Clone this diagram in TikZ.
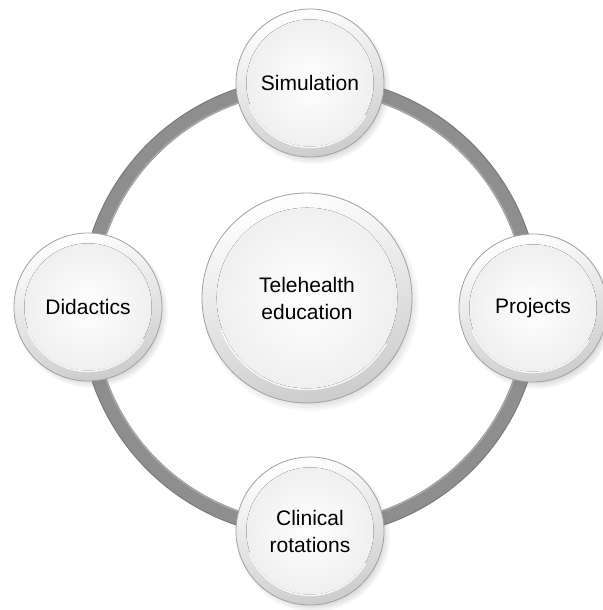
\documentclass[tikz,border=0pt]{standalone}
\usepackage{fontspec}
\setmainfont{Liberation Sans}
\usetikzlibrary{shadows,fadings}
\definecolor{ringgray}{HTML}{8E8E8E}
\definecolor{ringdark}{HTML}{7A7A7A}
\definecolor{ringlight}{HTML}{ABABAB}
\definecolor{rimgray}{HTML}{A0A0A0}
\begin{document}
\begin{tikzpicture}[x=1pt,y=-1pt,
  button/.style={circle, minimum size=#1pt, inner sep=0pt, align=center,
    font=\fontsize{21}{27}\selectfont, text=black,
    draw=rimgray, line width=0.8pt,
    top color=white, bottom color=gray!40, shading angle=15,
    circular drop shadow={shadow xshift=3pt, shadow yshift=-4pt, shadow scale=1.04, opacity=0.4},
    path picture={
      \fill[inner color=white, outer color=gray!14]
        (path picture bounding box.center) circle ({0.43*#1 pt});
      \draw[white, line width=1.4pt, opacity=0.9]
        (path picture bounding box.center) ++(-30:{0.435*#1 pt}) arc[start angle=-30, end angle=-160, radius={0.435*#1 pt}];
    }},
  ringline/.style={line width=15pt, draw=ringgray}
]
\useasboundingbox[fill=white] (0,0) rectangle (602,610);
\coordinate (ringc) at (310,307);
% ring
\draw[ringline] (ringc) circle (223pt);
\draw[ringdark, line width=0.8pt] (ringc) circle (230pt);
\draw[ringlight, line width=1.2pt] (ringc) circle (216.5pt);
% nodes
\node[button=210] (center) at (307,298) {Telehealth\\education};
\node[button=148] (sim) at (310,83) {Simulation};
\node[button=148] (did) at (88,307) {Didactics};
\node[button=148] (proj) at (533,308) {Projects};
\node[button=148] (clin) at (310,531) {Clinical\\rotations};
\end{tikzpicture}
\end{document}
